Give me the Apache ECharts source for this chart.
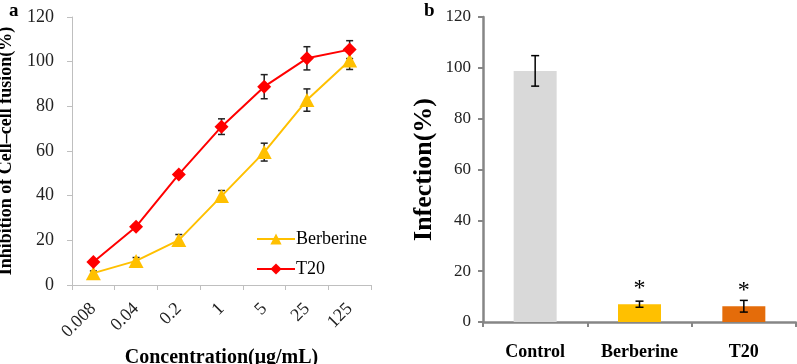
<!DOCTYPE html>
<html><head><meta charset="utf-8">
<script src="https://cdn.jsdelivr.net/npm/echarts@6/dist/echarts.min.js"></script>
<style>html,body{margin:0;padding:0;background:#fff}#c{width:797px;height:364px}</style>
</head><body><div id="c"></div>
<script>
const concentrations = ['0.008','0.04','0.2','1','5','25','125'];
const berberine = [5.3, 10.8, 20.1, 39.8, 59.5, 82.8, 100.5];
const berberineErr = [1.0, 1.5, 2.5, 2.5, 4.0, 5.0, 4.0];
const t20 = [10.3, 26.1, 49.5, 70.9, 88.8, 101.5, 105.4];
const t20Err = [1.0, 1.0, 1.0, 3.5, 5.4, 5.2, 4.0];
const groups = ['Control','Berberine','T20'];
const infection = [98.8, 7.0, 6.2];
const infectionErr = [6.0, 1.2, 2.3];
const yTicks = [0, 20, 40, 60, 80, 100, 120];

const F = 'Liberation Serif';
function errData(vals, errs){ return vals.map((v,i)=>[i, v-errs[i], v+errs[i]]); }
function errRender(cap, color){
  return function(params, api){
    const x = api.value(0);
    const p1 = api.coord([x, api.value(1)]);
    const p2 = api.coord([x, api.value(2)]);
    const st = {stroke: color, lineWidth: 1.5};
    return {type:'group', children:[
      {type:'line', shape:{x1:p1[0],y1:p1[1],x2:p2[0],y2:p2[1]}, style:st},
      {type:'line', shape:{x1:p1[0]-cap,y1:p1[1],x2:p1[0]+cap,y2:p1[1]}, style:st},
      {type:'line', shape:{x1:p2[0]-cap,y1:p2[1],x2:p2[0]+cap,y2:p2[1]}, style:st}
    ]};
  };
}
const chart = echarts.init(document.getElementById('c'), null, {renderer:'canvas'});
chart.setOption({
  animation:false,
  textStyle:{fontFamily:F},
  title:[
    {text:'a', left:4, top:-3, z:10, textStyle:{fontFamily:F, fontSize:19, fontWeight:'bold', color:'#000'}},
    {text:'b', left:419, top:-3, z:10, textStyle:{fontFamily:F, fontSize:19, fontWeight:'bold', color:'#000'}}
  ],
  legend:{
    data:['Berberine','T20'], orient:'vertical', left:251, top:225, itemGap:12,
    itemWidth:38, itemHeight:14,
    textStyle:{fontFamily:F, fontSize:18, color:'#000', padding:[0,0,0,-4]}
  },
  grid:[
    {left:72, right:426, top:17, bottom:79, containLabel:false, outerBoundsMode:'none'},
    {left:483, right:1, top:17, bottom:42, containLabel:false, outerBoundsMode:'none'}
  ],
  xAxis:[
    {type:'category', gridIndex:0, data:concentrations, boundaryGap:true,
      axisLine:{lineStyle:{color:'#bfbfbf', width:1}},
      axisTick:{show:true, length:5, lineStyle:{color:'#bfbfbf'}},
      axisLabel:{rotate:45, fontFamily:F, fontSize:18, color:'#222', margin:21},
      name:'Concentration(μg/mL)', nameLocation:'middle', nameGap:61,
      nameTextStyle:{fontFamily:F, fontSize:20, fontWeight:'bold', color:'#000'}},
    {type:'category', gridIndex:1, data:groups, boundaryGap:true,
      axisLine:{lineStyle:{color:'#868686', width:2.5}},
      axisTick:{show:true, length:5, lineStyle:{color:'#868686', width:2}},
      axisLabel:{fontFamily:F, fontSize:18, fontWeight:'bold', color:'#000', margin:21}}
  ],
  yAxis:[
    {type:'value', gridIndex:0, min:0, max:120, interval:20,
      splitLine:{show:false},
      axisLine:{show:true, lineStyle:{color:'#bfbfbf', width:1}},
      axisTick:{show:true, length:5, lineStyle:{color:'#bfbfbf'}},
      axisLabel:{fontFamily:F, fontSize:18, color:'#222', margin:18},
      name:'Inhibition of Cell–cell fusion(%)', nameLocation:'middle', nameGap:57,
      nameTextStyle:{fontFamily:F, fontSize:18, fontWeight:'bold', color:'#000'}},
    {type:'value', gridIndex:1, min:0, max:120, interval:20,
      splitLine:{show:false},
      axisLine:{show:true, lineStyle:{color:'#868686', width:2.5}},
      axisTick:{show:true, length:5, lineStyle:{color:'#868686', width:2}},
      axisLabel:{fontFamily:F, fontSize:17, color:'#222', margin:12},
      name:'Infection(%)', nameLocation:'middle', nameGap:46,
      nameTextStyle:{fontFamily:F, fontSize:26, fontWeight:'bold', color:'#000'}}
  ],
  series:[
    {name:'Berberine', type:'line', xAxisIndex:0, yAxisIndex:0, data:berberine,
      symbol:'triangle', symbolSize:[15,14], lineStyle:{color:'#ffc000', width:2},
      itemStyle:{color:'#ffc000'}, z:3},
    {name:'T20', type:'line', xAxisIndex:0, yAxisIndex:0, data:t20,
      symbol:'diamond', symbolSize:[14,14], lineStyle:{color:'#ff0000', width:2},
      itemStyle:{color:'#ff0000'}, z:3},
    {type:'custom', xAxisIndex:0, yAxisIndex:0, data:errData(berberine, berberineErr),
      renderItem:errRender(3.5,'#222'), z:2},
    {type:'custom', xAxisIndex:0, yAxisIndex:0, data:errData(t20, t20Err),
      renderItem:errRender(3.5,'#222'), z:2},
    {type:'bar', xAxisIndex:1, yAxisIndex:1, barWidth:43,
      data:infection.map((v,i)=>({value:v,
        itemStyle:{color:['#d9d9d9','#ffc000','#e46c0a'][i]},
        label:{show:i>0, formatter:'*', position:'top', distance:4,
          fontFamily:F, fontSize:24, color:'#000'}})), z:2},
    {type:'custom', xAxisIndex:1, yAxisIndex:1, data:errData(infection, infectionErr),
      renderItem:errRender(4,'#000'), z:4}
  ]
});
</script></body></html>
